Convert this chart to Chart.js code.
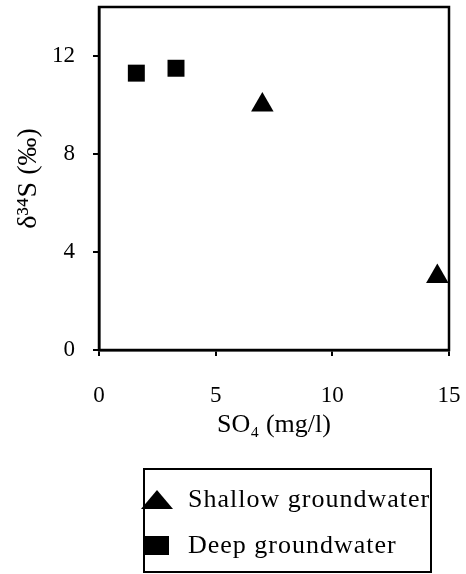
<!DOCTYPE html>
<html>
<head>
<meta charset="utf-8">
<script src="https://cdn.jsdelivr.net/npm/chart.js@4"></script>
<style>
  html, body { margin: 0; padding: 0; background: #fff; }
  #wrap { position: relative; width: 466px; height: 574px; }
  #legend {
    position: absolute; left: 143px; top: 468px; width: 289px; height: 105px;
    box-sizing: border-box; border: 2px solid #000;
    font-family: "Liberation Serif", serif; font-size: 26px; letter-spacing: 1px; color: #000;
  }
  .row { position: absolute; left: 0; width: 100%; height: 30px; }
  .row span { position: absolute; left: 43px; top: 0; line-height: 30px; white-space: nowrap; }
  .mark { position: absolute; left: -6px; top: 0; width: 36px; height: 30px;
    display: flex; align-items: center; justify-content: center; }
  .tri { width: 0; height: 0;
    border-left: 16px solid transparent; border-right: 16px solid transparent; border-bottom: 19px solid #000; }
  .sq { width: 24px; height: 19px; background: #000; }
</style>
</head>
<body>
<div id="wrap">
  <canvas id="chart" width="466" height="574"></canvas>
  <div id="legend"></div>
</div>
<script>
// values
const seriesNames = ['Shallow groundwater', 'Deep groundwater'];
const shallowX = [7.0, 14.5];
const shallowY = [10.0, 3.0];
const deepX = [1.6, 3.3];
const deepY = [11.3, 11.5];
const xTicks = [0, 5, 10, 15];
const yTicks = [0, 4, 8, 12];

const toPoints = (xs, ys) => xs.map((x, i) => ({ x: x, y: ys[i] }));

// big markers would otherwise push the plot area down from the top edge
Chart.ScatterController.prototype.getMaxOverflow = function () { return 0; };

// box round the plot area (top and right edges)
const frame = {
  id: 'frame',
  afterDraw(chart) {
    const { ctx, chartArea: a } = chart;
    ctx.save();
    ctx.strokeStyle = '#000';
    ctx.lineWidth = 2.5;
    ctx.strokeRect(a.left, a.top, a.right - a.left, a.bottom - a.top);
    ctx.restore();
  }
};

const tickFont = { family: 'Liberation Serif', size: 23 };
const titleFont = { family: 'Liberation Serif', size: 26 };
const gridOpts = { drawOnChartArea: false, drawTicks: true, tickLength: 6, color: '#000', lineWidth: 2 };
const borderOpts = { display: true, color: '#000', width: 2.5 };

const ctx = document.getElementById('chart').getContext('2d');
const chart = new Chart(ctx, {
  type: 'scatter',
  data: {
    datasets: [
      {
        label: seriesNames[0],
        data: toPoints(shallowX, shallowY),
        pointStyle: 'triangle',
        pointRadius: 13,
        backgroundColor: '#000',
        borderWidth: 0,
        clip: false
      },
      {
        label: seriesNames[1],
        data: toPoints(deepX, deepY),
        pointStyle: 'rect',
        pointRadius: 12,
        backgroundColor: '#000',
        borderWidth: 0,
        clip: false
      }
    ]
  },
  options: {
    responsive: false,
    animation: false,
    layout: { padding: { top: 7, right: 17, bottom: 124, left: 0 } },
    plugins: {
      legend: { display: false },
      tooltip: { enabled: false }
    },
    scales: {
      x: {
        type: 'linear',
        min: 0,
        max: 15,
        afterBuildTicks: s => { s.ticks = xTicks.map(v => ({ value: v })); },
        afterFit: s => { s.height = 100; s.paddingLeft = 0; s.paddingRight = 0; },
        grid: gridOpts,
        border: borderOpts,
        ticks: { color: '#000', padding: 26, font: tickFont },
        title: {
          display: true,
          text: 'SO\u2084 (mg/l)',
          color: '#000',
          padding: { top: 0, bottom: 9 },
          font: titleFont
        }
      },
      y: {
        type: 'linear',
        min: 0,
        max: 14,
        afterBuildTicks: s => { s.ticks = yTicks.map(v => ({ value: v })); },
        afterFit: s => { s.width = 99; s.paddingTop = 0; s.paddingBottom = 0; },
        grid: gridOpts,
        border: borderOpts,
        ticks: { color: '#000', padding: 18, font: tickFont },
        title: {
          display: true,
          text: '\u03B4\u00B3\u2074S (\u2030)',
          color: '#000',
          padding: { top: 12, bottom: 0 },
          font: { family: 'Liberation Serif', size: 28 }
        }
      }
    }
  },
  plugins: [frame]
});

// legend box below the chart, built from the datasets
const legend = document.getElementById('legend');
const rowTops = [14, 60];
chart.data.datasets.forEach((ds, i) => {
  const row = document.createElement('div');
  row.className = 'row';
  row.style.top = rowTops[i] + 'px';
  const mark = document.createElement('div');
  mark.className = 'mark';
  const shape = document.createElement('div');
  shape.className = ds.pointStyle === 'triangle' ? 'tri' : 'sq';
  mark.appendChild(shape);
  row.appendChild(mark);
  const txt = document.createElement('span');
  txt.textContent = ds.label;
  row.appendChild(txt);
  legend.appendChild(row);
});
</script>
</body>
</html>
